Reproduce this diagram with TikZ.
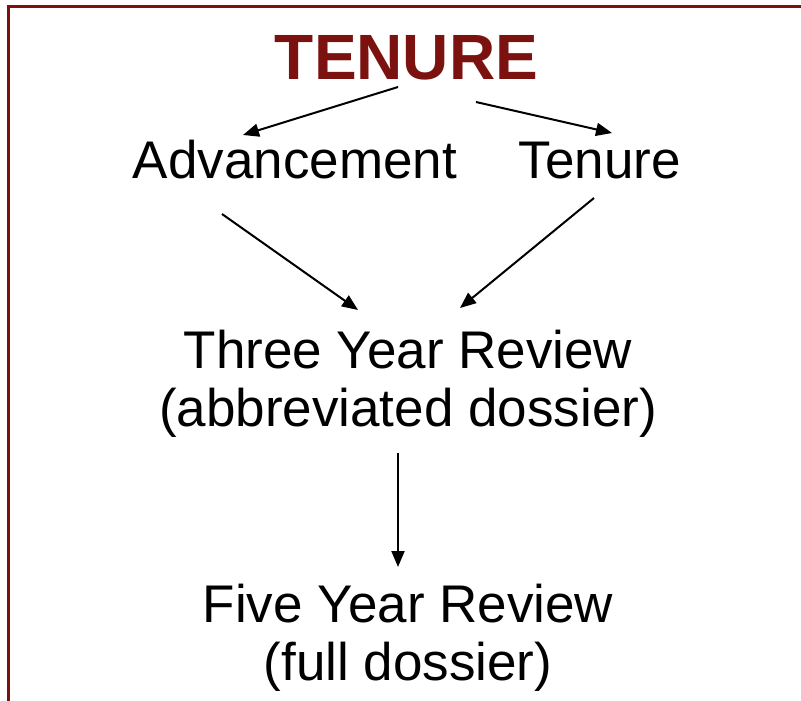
\documentclass[tikz,border=0pt]{standalone}
\usepackage{fontspec}
\setmainfont{Liberation Sans}
\usetikzlibrary{arrows.meta}
\definecolor{maroon}{RGB}{123,18,16}

\begin{document}
\begin{tikzpicture}[x=1pt,y=-1pt,-{Triangle[length=16pt,width=13pt]},line width=2pt]
\tikzstyle{every node}=[inner sep=0pt,anchor=base,align=center,font=\fontsize{53}{58}\selectfont]
\tikzstyle{frame}=[draw=maroon,line width=3pt,-]
\useasboundingbox (0,0) rectangle (801,701);
\draw[frame] (8,701) -- (8,7) -- (801,7);

\node[text=maroon,font=\fontsize{64}{70}\selectfont\bfseries] (T) at (406.5,80) {TENURE};
\node   (A) at (295,178)    {Advancement};
\node   (B) at (600,178)    {Tenure};
\node   (C) at (408,426)    {Three Year Review\\(abbreviated dossier)};
\node   (D) at (408,680)    {Five Year Review\\(full dossier)};

\path ([xshift=-8.5pt,yshift=-7pt]T.base)   edge    ([xshift=-52pt,yshift=43pt]A.base)
      ([xshift=69.5pt,yshift=-22pt]T.base)  edge    ([xshift=12pt,yshift=45pt]B.base)
      ([xshift=-73pt,yshift=-36pt]A.base)   edge    ([xshift=-50pt,yshift=116pt]C.base)
      ([xshift=-6pt,yshift=-20pt]B.base)    edge    ([xshift=52pt,yshift=118pt]C.base)
      ([xshift=-10pt,yshift=-27pt]C.base)   edge    ([xshift=-10pt,yshift=113pt]D.base);

\end{tikzpicture}
\end{document}
